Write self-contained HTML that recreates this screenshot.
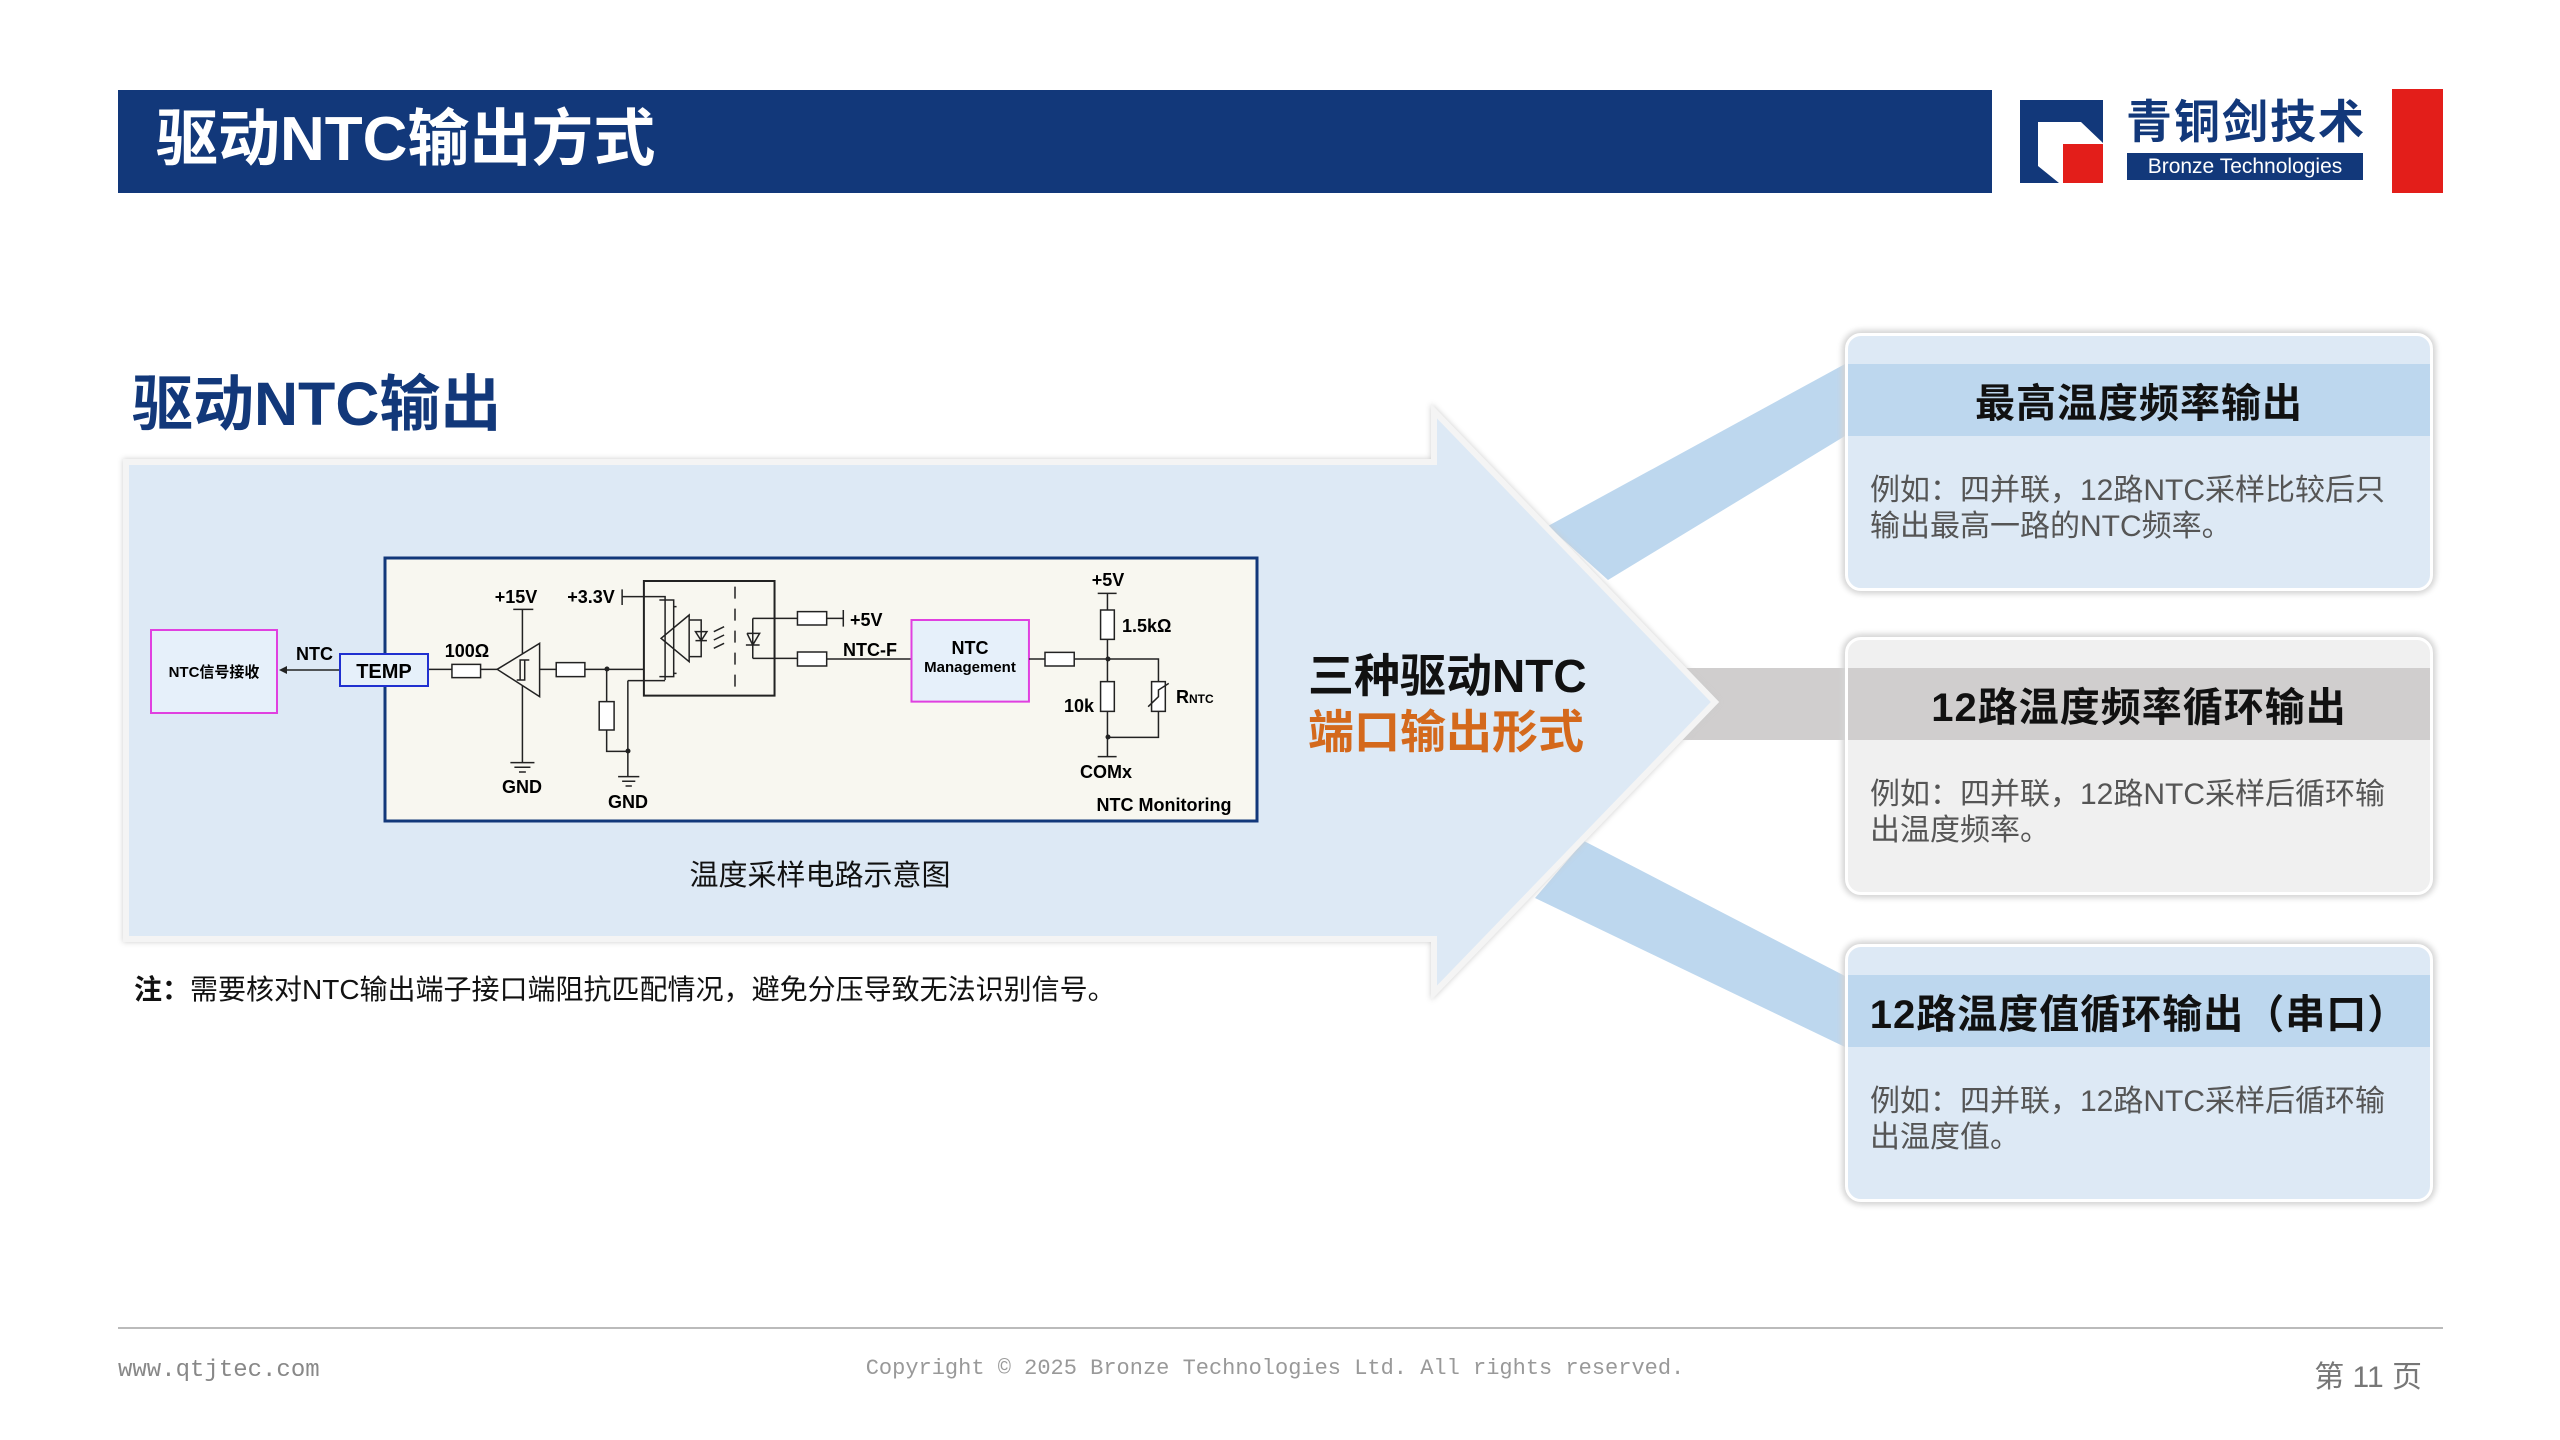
<!DOCTYPE html>
<html><head><meta charset="utf-8">
<style>
*{margin:0;padding:0;box-sizing:border-box}
body{width:2560px;height:1440px;background:#fff;position:relative;overflow:hidden;font-family:"Liberation Sans","Noto Sans CJK SC",sans-serif}
.abs{position:absolute}
.card{position:absolute;left:1845px;width:588px;height:258px;border-radius:16px;border:3px solid #fff;box-shadow:0 0 6px 3px #d4d4d4;overflow:hidden}
.band{position:absolute;left:0;right:0;top:28px;height:72px;display:flex;align-items:center;justify-content:center;font-weight:bold;font-size:40px;color:#111;letter-spacing:1px}
.body{position:absolute;left:22px;right:16px;top:137px;font-size:30px;line-height:36px;color:#555}
</style></head><body>
<div class="abs" style="left:118px;top:90px;width:1874px;height:103px;background:#12387a"></div>
<div class="abs" style="left:156px;top:104px;font-size:62px;font-weight:bold;color:#fff;line-height:72px">驱动NTC输出方式</div>
<svg class="abs" style="left:2015px;top:95px" width="95" height="95" viewBox="0 0 95 95">
<path d="M5 5H88V48L66 27H23V71L44 88H5Z" fill="#12387a"/>
<rect x="48" y="49" width="40" height="39" fill="#e31e1a"/>
</svg>
<div class="abs" style="left:2126px;top:96px;font-size:46px;font-weight:bold;color:#12387a;line-height:52px;letter-spacing:2px">青铜剑技术</div>
<div class="abs" style="left:2127px;top:153px;width:236px;height:27px;background:#12387a;color:#fff;font-size:21px;line-height:27px;text-align:center">Bronze Technologies</div>
<div class="abs" style="left:2392px;top:89px;width:51px;height:104px;background:#e31e1a"></div>

<div class="abs" style="left:132px;top:366px;font-size:61px;font-weight:bold;color:#12387a;line-height:76px">驱动NTC输出</div>

<svg class="abs" style="left:0;top:0" width="2560" height="1440">
<polygon points="1548,526 1845,364 1845,436 1608,580" fill="#bdd7ee"/>
<polygon points="1670,668 1845,668 1845,740 1670,740" fill="#d0cece"/>
<polygon points="1584,841 1845,976 1845,1047 1535,898" fill="#bdd7ee"/>
<polygon points="126,462 1434,462 1434,411 1715,702 1434,993 1434,939 126,939" fill="#dde9f5" stroke="#f4f4f4" stroke-width="6" style="filter:drop-shadow(0 0 3px #ccc)"/>
</svg>
<div class="abs" style="left:1308px;top:648px;font-size:46px;font-weight:bold;color:#111;line-height:56px">三种驱动NTC</div>
<div class="abs" style="left:1308px;top:704px;font-size:46px;font-weight:bold;color:#d4691c;line-height:56px">端口输出形式</div>

<div class="abs" style="left:150px;top:629px;width:128px;height:85px;border:2px solid #e040e0;background:#e6f0fa;font-size:15px;font-weight:bold;display:flex;align-items:center;justify-content:center">NTC信号接收</div>
<div class="abs" style="left:296px;top:644px;font-size:18px;font-weight:bold">NTC</div>
<svg class="abs" style="left:0;top:0" width="2560" height="1440">
<line x1="284" y1="670" x2="340" y2="670" stroke="#222" stroke-width="1.5"/>
<polygon points="279,670 287,666 287,674" fill="#222"/>
</svg>

<svg class="abs" style="left:0;top:0" width="2560" height="1440" font-family="'Liberation Sans Narrow','Liberation Sans',sans-serif" font-weight="bold" font-size="18">
<rect x="385" y="558" width="872" height="263" fill="#f8f7f0" stroke="#12387a" stroke-width="3"/>
<rect x="340" y="654" width="88" height="32" fill="#e6f0fa" stroke="#2030d0" stroke-width="2"/>
<text x="384" y="678" text-anchor="middle" font-size="20">TEMP</text>
<g transform="translate(370,550) scale(0.573,0.3333)" fill="none" stroke="#222" stroke-width="1.5">
<path vector-effect="non-scaling-stroke" d="M103 358H143M193 358H222M296 358H325M375 358H478M266 178V640M250 178H285M245 638H287M252 652H280M260 666H272"/>
<rect vector-effect="non-scaling-stroke" x="143" y="343" width="50" height="40" fill="#fff"/>
<polygon vector-effect="non-scaling-stroke" points="222,358 296,280 296,440" fill="#f8f7f0"/>
<path vector-effect="non-scaling-stroke" d="M262 390V330H278M270 330V390H256"/>
<rect vector-effect="non-scaling-stroke" x="325" y="338" width="50" height="42" fill="#fff"/>
<path vector-effect="non-scaling-stroke" d="M413 358V455M413 540V604H450M450 392V680M450 392H515M433 680H470M440 694H463M446 708H457"/>
<rect vector-effect="non-scaling-stroke" x="400" y="455" width="26" height="85" fill="#fff"/>
<path vector-effect="non-scaling-stroke" d="M440 118V165M440 140H515V165M515 165V390M505 150H530V380H505M530 170H535M530 370H535"/>
<rect vector-effect="non-scaling-stroke" x="478" y="93" width="228" height="344" stroke-width="2"/>
<polygon vector-effect="non-scaling-stroke" points="508,265 557,195 557,335"/>
<path vector-effect="non-scaling-stroke" d="M557 210H578V320H557M578 245V290M568 272H588M568 245L578 272L588 245Z"/>
<path vector-effect="non-scaling-stroke" d="M600 245L618 230M600 270L618 255M600 295L618 280"/>
<path vector-effect="non-scaling-stroke" d="M637 110V420" stroke-dasharray="12,10"/>
<path vector-effect="non-scaling-stroke" d="M668 205V325M658 250H680L668 285L658 250M656 285H680M668 205H746M668 325H746M797 205H826M826 180V230M797 327H945"/>
<rect vector-effect="non-scaling-stroke" x="746" y="185" width="51" height="40" fill="#fff"/>
<rect vector-effect="non-scaling-stroke" x="746" y="306" width="51" height="42" fill="#fff"/>
<rect vector-effect="non-scaling-stroke" x="945" y="210" width="205" height="245" fill="#e6f0fa" stroke="#e040e0" stroke-width="2"/>
<path vector-effect="non-scaling-stroke" d="M1150 327H1178M1229 327H1376V395M1287 130V562M1270 130H1303M1287 562V620M1270 620H1303M1376 484V562H1287"/>
<rect vector-effect="non-scaling-stroke" x="1178" y="307" width="51" height="41" fill="#fff"/>
<rect vector-effect="non-scaling-stroke" x="1275" y="180" width="24" height="88" fill="#fff"/>
<rect vector-effect="non-scaling-stroke" x="1275" y="395" width="24" height="89" fill="#fff"/>
<rect vector-effect="non-scaling-stroke" x="1364" y="395" width="24" height="89" fill="#fff"/>
<path vector-effect="non-scaling-stroke" d="M1358 470L1376 440V420L1394 400"/>
</g>
<circle cx="607" cy="669" r="2.5" fill="#222"/><circle cx="628" cy="751" r="2.5" fill="#222"/>
<circle cx="1108" cy="659" r="2.5" fill="#222"/><circle cx="1108" cy="737" r="2.5" fill="#222"/>
<text x="516" y="603" text-anchor="middle">+15V</text>
<text x="591" y="603" text-anchor="middle">+3.3V</text>
<text x="467" y="657" text-anchor="middle">100Ω</text>
<text x="850" y="626">+5V</text>
<text x="870" y="656" text-anchor="middle">NTC-F</text>
<text x="970" y="654" text-anchor="middle">NTC</text>
<text x="970" y="672" text-anchor="middle" font-size="15">Management</text>
<text x="1108" y="586" text-anchor="middle">+5V</text>
<text x="1122" y="632">1.5kΩ</text>
<text x="1079" y="712" text-anchor="middle">10k</text>
<text x="1176" y="703">R<tspan font-size="12">NTC</tspan></text>
<text x="1106" y="778" text-anchor="middle">COMx</text>
<text x="522" y="793" text-anchor="middle">GND</text>
<text x="628" y="808" text-anchor="middle">GND</text>
<text x="1164" y="811" text-anchor="middle">NTC Monitoring</text>
</svg>
<div class="abs" style="left:620px;top:852px;width:400px;text-align:center;font-size:29px;color:#111">温度采样电路示意图</div>
<div class="abs" style="left:134px;top:968px;font-size:28px;color:#111"><b>注：</b>需要核对NTC输出端子接口端阻抗匹配情况，避免分压导致无法识别信号。</div>

<div class="card" style="top:333px;background:#dde9f5"><div class="band" style="background:#bdd7ee">最高温度频率输出</div><div class="body">例如：四并联，12路NTC采样比较后只输出最高一路的NTC频率。</div></div>
<div class="card" style="top:637px;background:#f0f0f0"><div class="band" style="background:#d0cece">12路温度频率循环输出</div><div class="body">例如：四并联，12路NTC采样后循环输出温度频率。</div></div>
<div class="card" style="top:944px;background:#dde9f5"><div class="band" style="background:#bdd7ee">12路温度值循环输出（串口）</div><div class="body">例如：四并联，12路NTC采样后循环输出温度值。</div></div>

<div class="abs" style="left:118px;top:1327px;width:2325px;height:2px;background:#bbb"></div>
<div class="abs" style="left:118px;top:1357px;font-family:'Liberation Mono',monospace;font-size:24px;color:#888">www.qtjtec.com</div>
<div class="abs" style="left:775px;top:1356px;width:1000px;text-align:center;font-family:'Liberation Mono',monospace;font-size:22px;color:#999">Copyright © 2025 Bronze Technologies Ltd. All rights reserved.</div>
<div class="abs" style="left:2280px;top:1352px;width:142px;text-align:right;font-size:30px;color:#777">第 11 页</div>
</body></html>
